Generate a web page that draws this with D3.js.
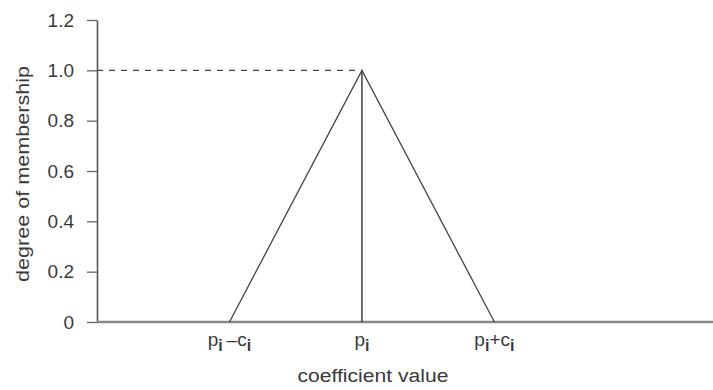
<!DOCTYPE html>
<html>
<head>
<meta charset="utf-8">
<script src="https://cdn.jsdelivr.net/npm/d3@7"></script>
<style>
  html, body { margin: 0; padding: 0; background: #fff; }
  svg { display: block; }
  text { font-family: "Liberation Sans", Arial, Helvetica, sans-serif; fill: #3a3a3a; }
</style>
</head>
<body>
<svg id="chart" width="713" height="390"></svg>
<script>
// Triangular membership function: points (x in units of the spread c)
const membershipX = [1, 2, 3];          // p_i - c_i, p_i, p_i + c_i
const membershipY = [0, 1, 0];
const peakX = 2;
const peakY = 1;
const yTicks = [0, 0.2, 0.4, 0.6, 0.8, 1.0, 1.2];
const yTickLabels = ["0", "0.2", "0.4", "0.6", "0.8", "1.0", "1.2"];
const xTickValues = [1, 2, 3];
const xTickLabels = [
  [["p", false], ["i", true], ["\u2009\u2013c", false], ["i", true]],
  [["p", false], ["i", true]],
  [["p", false], ["i", true], ["+c", false], ["i", true]]
];
const xTitle = "coefficient value";
const yTitle = "degree of membership";

const svg = d3.select("#chart");
const x = d3.scaleLinear().domain([0, 4.65]).range([97, 713]);
const y = d3.scaleLinear().domain([0, 1.2]).range([322, 20]);

// Y axis
const yAxis = d3.axisLeft(y)
  .tickValues(yTicks)
  .tickFormat((d, i) => yTickLabels[i])
  .tickSize(10)
  .tickPadding(13)
  .tickSizeOuter(0);
const gy = svg.append("g").attr("transform", `translate(${x(0)},0)`).call(yAxis);
gy.attr("font-size", null).attr("font-family", null);
gy.select(".domain").attr("stroke", "#555").attr("stroke-width", 1.6);
gy.selectAll(".tick line").attr("stroke", "#666").attr("stroke-width", 1.3);
gy.selectAll(".tick text")
  .style("font-size", "19px")
  .attr("fill", "#3a3a3a");

// X axis (baseline line only, labels drawn with subscripts)
svg.append("line")
  .attr("x1", x(0)).attr("x2", x(4.65))
  .attr("y1", y(0)).attr("y2", y(0))
  .attr("stroke", "#888").attr("stroke-width", 2.4);

const xl = svg.append("g");
xTickValues.forEach((v, i) => {
  const t = xl.append("text")
    .attr("x", x(v)).attr("y", 346)
    .attr("text-anchor", "middle")
    .style("font-size", "19px");
  xTickLabels[i].forEach(([s, sub], k) => {
    t.append("tspan")
      .attr("dy", sub ? 5 : (k > 0 ? -5 : 0))
      .style("font-size", sub ? "16px" : "19px")
      .attr("font-weight", sub ? "bold" : "normal")
      .text(s);
  });
});

// Dashed guide at the peak
svg.append("line")
  .attr("x1", x(0)).attr("x2", x(peakX))
  .attr("y1", y(peakY)).attr("y2", y(peakY))
  .attr("stroke", "#444").attr("stroke-width", 1.4)
  .attr("stroke-dasharray", "6,6");

// Vertical line from the peak to the axis
svg.append("line")
  .attr("x1", x(peakX)).attr("x2", x(peakX))
  .attr("y1", y(peakY)).attr("y2", y(0))
  .attr("stroke", "#333").attr("stroke-width", 1.4);

// Triangle
const line = d3.line().x(d => x(d[0])).y(d => y(d[1]));
svg.append("path")
  .datum(membershipX.map((v, i) => [v, membershipY[i]]))
  .attr("d", line)
  .attr("fill", "none")
  .attr("stroke", "#444")
  .attr("stroke-width", 1.3);

// Titles
svg.append("text")
  .attr("x", x(peakX) + 11).attr("y", 382)
  .attr("text-anchor", "middle")
  .style("font-size", "18px")
  .attr("textLength", 151)
  .attr("lengthAdjust", "spacingAndGlyphs")
  .text(xTitle);
svg.append("text")
  .attr("transform", `translate(29,174) rotate(-90)`)
  .attr("text-anchor", "middle")
  .style("font-size", "18px")
  .attr("textLength", 216)
  .attr("lengthAdjust", "spacingAndGlyphs")
  .text(yTitle);
</script>
</body>
</html>
